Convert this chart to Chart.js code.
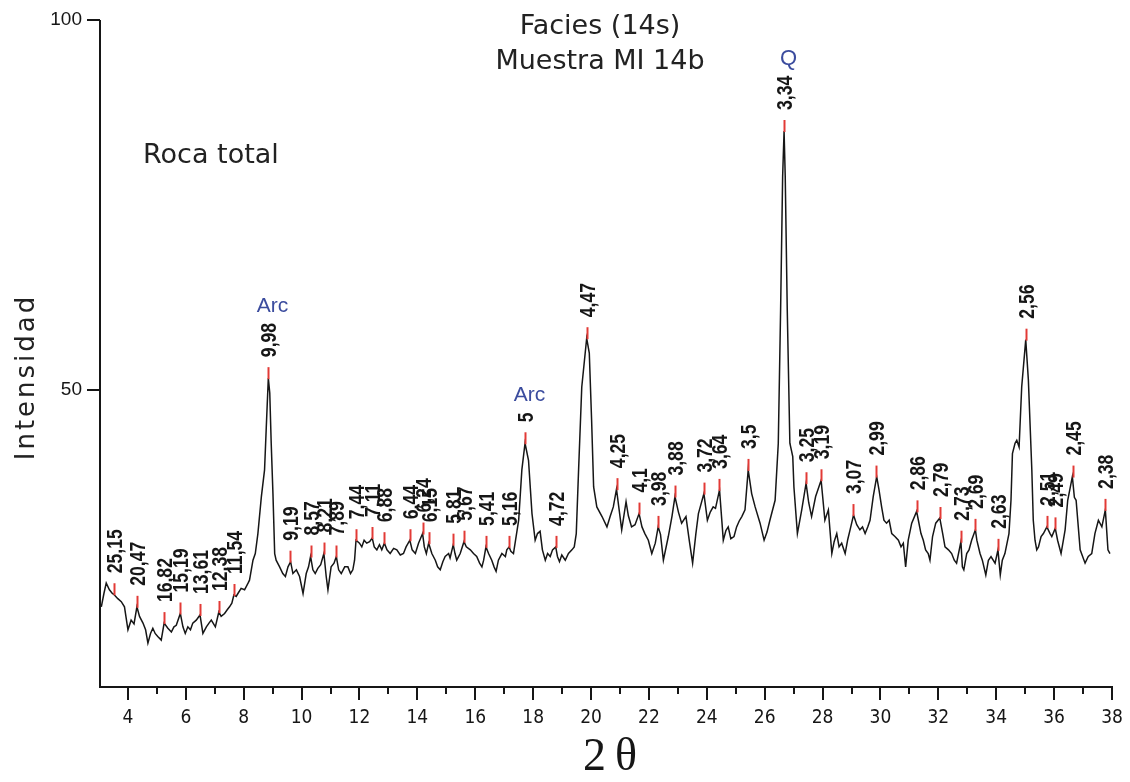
<!DOCTYPE html>
<html>
<head>
<meta charset="utf-8">
<title>Facies (14s) - Muestra MI 14b</title>
<script src="https://cdn.jsdelivr.net/npm/chart.js@4.4.1/dist/chart.umd.min.js"></script>
<style>
  html, body { margin: 0; padding: 0; background: #fff; }
  canvas { display: block; }
</style>
</head>
<body>
<canvas id="xrd" width="1130" height="782"></canvas>
<script>
// diffractogram as [2θ (degrees), intensity]
const scan = [
  [3.08, 20.7], [3.17, 22.5], [3.25, 23.9], [3.36, 23.0], [3.46, 22.5], [3.51, 22.4], [3.65, 21.8],
  [3.77, 21.4], [3.88, 20.7], [4.00, 17.6], [4.11, 18.9], [4.21, 18.4], [4.31, 20.7], [4.40, 19.4],
  [4.52, 18.5], [4.61, 17.6], [4.69, 15.8], [4.78, 17.1], [4.86, 17.8], [4.94, 17.1], [5.03, 16.7],
  [5.15, 16.2], [5.25, 18.5], [5.38, 17.8], [5.50, 17.3], [5.59, 18.0], [5.67, 18.2], [5.81, 19.8],
  [5.90, 18.0], [5.98, 17.1], [6.07, 18.0], [6.16, 17.6], [6.24, 18.5], [6.36, 18.9], [6.49, 19.6],
  [6.59, 17.1], [6.71, 18.0], [6.80, 18.5], [6.88, 18.9], [7.02, 18.0], [7.14, 20.0], [7.22, 19.4],
  [7.34, 19.8], [7.43, 20.3], [7.51, 20.7], [7.59, 21.2], [7.66, 22.3], [7.74, 22.1], [7.80, 22.5],
  [7.91, 23.2], [8.03, 23.0], [8.15, 23.9], [8.20, 24.3], [8.32, 27.0], [8.40, 27.9], [8.49, 30.6],
  [8.61, 35.6], [8.72, 39.2], [8.78, 45.0], [8.85, 51.6], [8.90, 49.6], [8.95, 42.8], [9.01, 36.0],
  [9.07, 27.9], [9.12, 27.0], [9.24, 26.1], [9.35, 25.2], [9.44, 24.8], [9.53, 26.1], [9.62, 26.8],
  [9.70, 25.2], [9.82, 25.7], [9.93, 24.8], [10.05, 22.5], [10.16, 25.2], [10.24, 26.1], [10.31, 27.5],
  [10.39, 25.7], [10.47, 25.2], [10.56, 25.9], [10.66, 26.4], [10.77, 27.9], [10.85, 24.8], [10.91, 23.0],
  [11.02, 26.1], [11.12, 26.6], [11.20, 27.5], [11.28, 25.7], [11.37, 25.2], [11.49, 26.1], [11.60, 26.1],
  [11.69, 25.2], [11.77, 25.7], [11.83, 27.0],
  [11.88, 29.7], [12.00, 29.3], [12.08, 28.8], [12.16, 29.7], [12.25, 29.3], [12.35, 29.5], [12.44, 30.0],
  [12.51, 28.8], [12.60, 28.4], [12.69, 29.1], [12.77, 28.4], [12.86, 29.3], [12.95, 28.4], [13.06, 27.9],
  [13.18, 28.6], [13.29, 28.4], [13.41, 27.7], [13.52, 27.9], [13.61, 28.8], [13.74, 29.7], [13.82, 28.4],
  [13.93, 27.9], [14.04, 29.3], [14.18, 30.6], [14.24, 28.8], [14.31, 27.9], [14.39, 29.3], [14.50, 27.9],
  [14.62, 27.0], [14.70, 26.1], [14.79, 25.7], [14.88, 26.8], [14.96, 27.5], [15.08, 27.9], [15.13, 27.3],
  [15.24, 29.1], [15.30, 27.9], [15.36, 27.0], [15.48, 27.9], [15.61, 29.5], [15.69, 28.8], [15.83, 28.4],
  [15.94, 27.9], [16.05, 27.5], [16.15, 26.6], [16.23, 26.1], [16.29, 27.0], [16.37, 28.8], [16.46, 27.9],
  [16.57, 27.0], [16.65, 26.1], [16.72, 25.5], [16.80, 27.0], [16.92, 27.9], [17.04, 27.5], [17.09, 28.4],
  [17.17, 28.8], [17.23, 28.2], [17.32, 27.9], [17.50, 32.4], [17.61, 39.2], [17.72, 42.8], [17.84, 40.5],
  [17.96, 33.3], [18.07, 29.7], [18.15, 30.6], [18.24, 30.9], [18.32, 28.4], [18.42, 27.0], [18.50, 27.9],
  [18.59, 27.5], [18.67, 28.4], [18.78, 28.8], [18.84, 27.5], [18.91, 26.8], [18.99, 27.7], [19.11, 27.0],
  [19.22, 27.9], [19.34, 28.4], [19.42, 28.8], [19.49, 30.6], [19.57, 39.2], [19.68, 50.4], [19.85, 57.0],
  [19.94, 55.0], [20.02, 45.9], [20.09, 36.9], [20.20, 34.2], [20.38, 32.9], [20.55, 31.5],
  [20.66, 32.9], [20.77, 34.2], [20.88, 36.6], [21.06, 31.1], [21.21, 34.9], [21.29, 33.0], [21.40, 31.5],
  [21.52, 31.8], [21.66, 33.3], [21.76, 31.5], [21.86, 30.6], [21.98, 29.7], [22.10, 27.9], [22.22, 29.3],
  [22.32, 31.5], [22.40, 30.5], [22.50, 27.0], [22.67, 30.2], [22.80, 33.0], [22.90, 35.6], [23.02, 33.5],
  [23.13, 32.0], [23.28, 32.9], [23.40, 29.5], [23.51, 26.6], [23.62, 30.5], [23.71, 33.3], [23.90, 36.0],
  [24.02, 32.4], [24.12, 33.5], [24.22, 34.2], [24.30, 34.0], [24.44, 36.5], [24.57, 29.7], [24.66, 31.0],
  [24.74, 31.5], [24.83, 29.9], [24.94, 30.2], [25.03, 31.5], [25.12, 32.3], [25.21, 32.9], [25.32, 33.8],
  [25.43, 39.2], [25.55, 36.0], [25.67, 34.2], [25.84, 32.0], [25.98, 29.7], [26.08, 30.8], [26.18, 32.4],
  [26.36, 35.1], [26.47, 42.8], [26.55, 60.8], [26.62, 78.8], [26.67, 85.0], [26.71, 78.8], [26.78, 60.8],
  [26.87, 42.8], [26.97, 41.0], [27.01, 36.9], [27.13, 30.6], [27.28, 33.8], [27.43, 37.4], [27.52, 34.8],
  [27.62, 32.9], [27.76, 35.6], [27.95, 37.8], [28.08, 32.4], [28.20, 33.8], [28.32, 27.9], [28.40, 29.5],
  [28.49, 30.6], [28.57, 28.8], [28.66, 29.3], [28.78, 27.9], [28.87, 29.8], [28.95, 31.1], [29.07, 33.1],
  [29.18, 31.8], [29.29, 31.1], [29.38, 31.5],
  [29.47, 30.6], [29.56, 31.5], [29.64, 32.4], [29.75, 35.6], [29.87, 38.3], [29.95, 36.5], [30.04, 34.2],
  [30.12, 32.4], [30.21, 32.0], [30.30, 32.4], [30.39, 30.6], [30.50, 30.2], [30.62, 29.7], [30.71, 28.8],
  [30.79, 29.3], [30.87, 26.1], [30.96, 29.7], [31.08, 32.0], [31.25, 33.6], [31.31, 32.4], [31.40, 30.6],
  [31.48, 29.7], [31.56, 28.4], [31.65, 27.9], [31.71, 27.0], [31.80, 30.2], [31.91, 32.0], [32.05, 32.7],
  [32.15, 30.6], [32.23, 28.8], [32.35, 28.4], [32.46, 27.9], [32.55, 27.0], [32.63, 26.6], [32.78, 29.5],
  [32.83, 26.1], [32.88, 25.7], [32.98, 27.9], [33.06, 28.4], [33.15, 29.7], [33.28, 31.1], [33.33, 29.7],
  [33.44, 27.9], [33.52, 27.0], [33.64, 25.0], [33.73, 27.0], [33.82, 27.5], [33.96, 26.6], [34.06, 28.4],
  [34.14, 25.0], [34.21, 27.0], [34.30, 27.9], [34.44, 30.6], [34.51, 35.1], [34.56, 41.4], [34.65, 42.8],
  [34.71, 43.2], [34.79, 42.3], [34.88, 50.4], [35.02, 56.8], [35.11, 51.4], [35.23, 39.2], [35.28, 32.4],
  [35.34, 29.7], [35.40, 28.4], [35.46, 28.8], [35.55, 30.2], [35.63, 30.6], [35.75, 31.5], [35.86, 30.6],
  [35.92, 30.2], [36.04, 31.3], [36.12, 29.7], [36.24, 27.9], [36.32, 29.7], [36.38, 31.1], [36.47, 35.1],
  [36.63, 38.3], [36.70, 35.5], [36.76, 35.1], [36.90, 28.4], [37.07, 26.6], [37.18, 27.5], [37.30, 27.9],
  [37.41, 30.6], [37.53, 32.4], [37.65, 31.5], [37.77, 33.8], [37.86, 28.4], [37.93, 27.9]
];
const twoTheta = scan.map((p) => p[0]);
const intensity = scan.map((p) => p[1]);

// labelled reflections, d-spacing in Å as printed on the chart
const peakD = [
  '25,15', '20,47', '16,82', '15,19', '13,61', '12,38', '11,54', '9,98', '9,19', '8,57', '8,21',
  '7,89', '7,44', '7,11', '6,88', '6,44', '6,24', '6,15', '5,81', '5,67', '5,41', '5,16', '5',
  '4,72', '4,47', '4,25', '4,1', '3,98', '3,88', '3,72', '3,64', '3,5', '3,34', '3,25', '3,19',
  '3,07', '2,99', '2,86', '2,79', '2,73', '2,69', '2,63', '2,56', '2,51', '2,49', '2,45', '2,38'
];
// mineral phase written above some reflections
const peakPhase = { '9,98': 'Arc', '5': 'Arc', '3,34': 'Q' };

const xTicks = [4, 6, 8, 10, 12, 14, 16, 18, 20, 22, 24, 26, 28, 30, 32, 34, 36, 38];
const xMinorTicks = [5, 7, 9, 11, 13, 15, 17, 19, 21, 23, 25, 27, 29, 31, 33, 35, 37];
const yTicks = [50, 100];

const WAVELENGTH = 1.5406; // Cu Kα

function braggAngle(label) {
  const d = parseFloat(label.replace(',', '.'));
  return 2 * Math.asin(WAVELENGTH / (2 * d)) * 180 / Math.PI;
}

// height of the trace at a reflection: highest point close to it
function traceAt(angle) {
  let best = null;
  twoTheta.forEach((t, i) => {
    if (Math.abs(t - angle) <= 0.05 && (best === null || intensity[i] > best)) best = intensity[i];
  });
  if (best !== null) return best;
  for (let i = 1; i < twoTheta.length; i++) {
    if (twoTheta[i] >= angle) {
      const f = (angle - twoTheta[i - 1]) / (twoTheta[i] - twoTheta[i - 1]);
      return intensity[i - 1] + f * (intensity[i] - intensity[i - 1]);
    }
  }
  return intensity[intensity.length - 1];
}

const INK = '#161616';
const RED = '#e23a36';
const BLUE = '#3b4c9e';

const peakMarks = {
  id: 'peakMarks',
  afterDatasetsDraw(chart) {
    const { ctx, scales: { x, y } } = chart;
    ctx.save();
    peakD.forEach((label) => {
      const angle = braggAngle(label);
      const px = Math.round(x.getPixelForValue(angle)) + 0.5;
      const py = y.getPixelForValue(traceAt(angle));

      ctx.strokeStyle = RED;
      ctx.lineWidth = 2;
      ctx.beginPath();
      ctx.moveTo(px, py + 1);
      ctx.lineTo(px, py - 11);
      ctx.stroke();

      // d-spacing, read bottom to top
      ctx.save();
      ctx.translate(px, py - 21);
      ctx.rotate(-Math.PI / 2);
      ctx.scale(0.8, 1);
      ctx.font = 'bold 22px "Liberation Sans", Arial, sans-serif';
      ctx.textAlign = 'left';
      ctx.textBaseline = 'middle';
      ctx.fillStyle = INK;
      ctx.fillText(label, 0, 1);
      const len = ctx.measureText(label).width * 0.8;
      ctx.restore();

      const phase = peakPhase[label];
      if (phase) {
        ctx.font = (phase === 'Q' ? '22px' : '21px') + ' "Liberation Sans", Arial, sans-serif';
        ctx.fillStyle = BLUE;
        ctx.textAlign = 'center';
        ctx.textBaseline = 'middle';
        ctx.fillText(phase, px + 4, py - 21 - len - 17);
      }
    });
    ctx.restore();
  }
};

const frame = {
  id: 'frame',
  afterDraw(chart) {
    const { ctx, chartArea: area, scales: { x, y } } = chart;
    ctx.save();
    ctx.strokeStyle = INK;
    ctx.lineWidth = 2;
    ctx.lineCap = 'butt';

    // axis lines
    ctx.beginPath();
    ctx.moveTo(area.left + 1, area.top);
    ctx.lineTo(area.left + 1, area.bottom + 1);
    ctx.lineTo(area.right + 1, area.bottom + 1);
    ctx.stroke();

    // tick marks
    ctx.beginPath();
    yTicks.forEach((v) => {
      const py = Math.round(y.getPixelForValue(v));
      ctx.moveTo(area.left - 12, py);
      ctx.lineTo(area.left + 1, py);
    });
    xTicks.forEach((v) => {
      const px = Math.round(x.getPixelForValue(v));
      ctx.moveTo(px, area.bottom);
      ctx.lineTo(px, area.bottom + 14);
    });
    xMinorTicks.forEach((v) => {
      const px = Math.round(x.getPixelForValue(v));
      ctx.moveTo(px, area.bottom);
      ctx.lineTo(px, area.bottom + 8);
    });
    ctx.stroke();

    // titles and captions
    ctx.fillStyle = '#222';
    ctx.textAlign = 'center';
    ctx.textBaseline = 'middle';
    ctx.font = '27px "DejaVu Sans", Verdana, sans-serif';
    ctx.fillText('Facies (14s)', 600, 27);
    ctx.fillText('Muestra MI 14b', 600, 62);

    ctx.textAlign = 'left';
    ctx.font = '27px "DejaVu Sans", Verdana, sans-serif';
    ctx.fillText('Roca total', 143, 156);

    ctx.save();
    ctx.translate(27, 377);
    ctx.rotate(-Math.PI / 2);
    ctx.textAlign = 'center';
    ctx.font = '26px "DejaVu Sans", Verdana, sans-serif';
    ctx.letterSpacing = '3px';
    ctx.fillText('Intensidad', 0, 0);
    ctx.restore();

    ctx.textAlign = 'center';
    ctx.fillStyle = INK;
    ctx.font = '46px "Liberation Serif", "Times New Roman", serif';
    ctx.fillText('2\u2009θ', 610, 758);
    ctx.restore();
  }
};

new Chart(document.getElementById('xrd'), {
  type: 'line',
  data: {
    datasets: [{
      label: 'Roca total',
      data: scan.map((p) => ({ x: p[0], y: p[1] })),
      borderColor: INK,
      borderWidth: 1.5,
      pointRadius: 0,
      tension: 0,
      fill: false
    }]
  },
  options: {
    responsive: false,
    animation: false,
    devicePixelRatio: 1,
    layout: { padding: { top: 20, right: 18, left: 0, bottom: 0 } },
    plugins: {
      legend: { display: false },
      tooltip: { enabled: false }
    },
    scales: {
      x: {
        type: 'linear',
        min: 3,
        max: 38,
        afterBuildTicks: (scale) => { scale.ticks = xTicks.map((v) => ({ value: v })); },
        afterFit: (scale) => {
          scale.height = 96;
          scale.paddingLeft = 0;
          scale.paddingRight = 0;
        },
        grid: { display: false, drawTicks: false },
        border: { display: false },
        ticks: {
          autoSkip: false,
          maxRotation: 0,
          padding: 21,
          color: INK,
          font: { family: '"DejaVu Sans Condensed", "Liberation Sans", sans-serif', size: 19 }
        }
      },
      y: {
        type: 'linear',
        min: 10,
        max: 100,
        afterBuildTicks: (scale) => { scale.ticks = yTicks.map((v) => ({ value: v })); },
        afterFit: (scale) => {
          scale.width = 99;
          scale.paddingTop = 0;
          scale.paddingBottom = 0;
        },
        grid: { display: false, drawTicks: false },
        border: { display: false },
        ticks: {
          padding: 17,
          color: INK,
          font: { family: '"Liberation Sans", Arial, sans-serif', size: 19 }
        }
      }
    }
  },
  plugins: [peakMarks, frame]
});
</script>
</body>
</html>
